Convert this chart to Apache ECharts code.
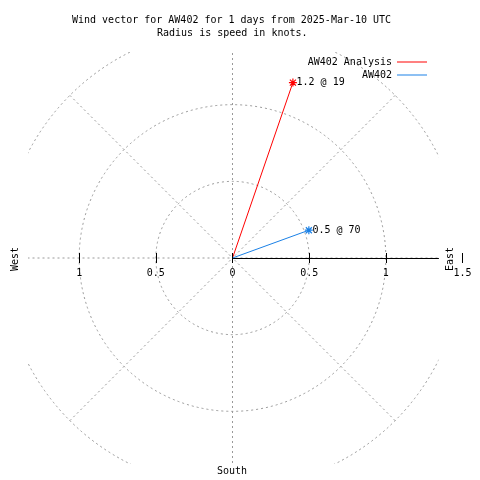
<!DOCTYPE html>
<html>
<head>
<meta charset="utf-8">
<script src="https://cdn.jsdelivr.net/npm/echarts@6/dist/echarts.min.js"></script>
<style>html,body{margin:0;padding:0;background:#fff}#c{width:480px;height:480px}</style>
</head>
<body>
<div id="c"></div>
<script>
// ---- data ----
const seriesNames = ['AW402 Analysis', 'AW402'];
const speeds = [1.21, 0.53];       // knots (radius)
const directions = [19, 70];        // degrees, clockwise from north
const seriesColors = ['#ff0000', '#1a80e6'];
const tickValues = [-1, -0.5, 0, 0.5, 1, 1.5];
const titleLine1 = 'Wind vector for AW402 for 1 days from 2025-Mar-10 UTC';
const titleLine2 = 'Radius is speed in knots.';
const compass = { west: 'West', east: 'East', south: 'South' };

// ---- layout ----
const FONT = 'DejaVu Sans Mono';
const CX = 232.5, CY = 258, R = 230, RMAX = 1.5;
const BOX = { l: 28, r: 438.5, t: 52, b: 464 };
const upperGrid = { left: CX - R, top: CY - R, width: 2 * R, height: R, outerBoundsMode: 'none', containLabel: false };
const gridLine = { color: '#999999', width: 1, type: [2, 3] };
const asterisk = 'path://M-4 0L4 0M0 -4L0 4M-3 -3L3 3M-3 3L3 -3';

const chart = echarts.init(document.getElementById('c'), null, { renderer: 'canvas' });

const series = seriesNames.map((name, i) => ({
  name: name,
  type: 'line',
  coordinateSystem: 'polar',
  polarIndex: 0,
  color: seriesColors[i],
  lineStyle: { color: seriesColors[i], width: 1 },
  itemStyle: { color: seriesColors[i], borderColor: seriesColors[i], borderWidth: 1.2 },
  symbol: asterisk,
  symbolSize: 8,
  animation: false,
  z: 3,
  data: [
    { value: [0, directions[i]], symbol: 'none', label: { show: false } },
    { value: [speeds[i], directions[i]] }
  ],
  label: {
    show: true,
    position: 'right',
    distance: -1,
    color: '#000',
    fontFamily: FONT,
    fontSize: 10,
    formatter: p => p.value[0].toFixed(1) + ' @ ' + p.value[1]
  }
}));

const textStyle = { fontFamily: FONT, fontSize: 10, color: '#000', fontWeight: 'normal' };

const option = {
  backgroundColor: '#fff',
  animation: false,
  title: [
    { text: titleLine1, left: 72, top: 15, padding: 0, textStyle: textStyle },
    { text: titleLine2, left: 157, top: 28, padding: 0, textStyle: textStyle }
  ],
  legend: [
    { data: [seriesNames[0]], right: 53, top: 57, padding: 0, align: 'right', icon: 'rect',
      itemWidth: 30, itemHeight: 1, itemStyle: { borderWidth: 0 }, textStyle: textStyle, selectedMode: false },
    { data: [seriesNames[1]], right: 53, top: 70, padding: 0, align: 'right', icon: 'rect',
      itemWidth: 30, itemHeight: 1, itemStyle: { borderWidth: 0 }, textStyle: textStyle, selectedMode: false }
  ],
  polar: { center: [CX, CY], radius: R },
  angleAxis: {
    type: 'value', min: 0, max: 360, interval: 45, startAngle: 90, clockwise: true,
    axisLine: { show: false }, axisTick: { show: false }, axisLabel: { show: false },
    splitLine: { show: true, lineStyle: gridLine }
  },
  radiusAxis: {
    type: 'value', min: 0, max: RMAX, interval: 0.5,
    axisLine: { show: false }, axisTick: { show: false }, axisLabel: { show: false },
    splitLine: { show: true, lineStyle: gridLine }
  },
  grid: [
    Object.assign({}, upperGrid),
    Object.assign({}, upperGrid),
    Object.assign({}, upperGrid, { left: CX, width: BOX.r - CX })
  ],
  xAxis: [
    { gridIndex: 0, type: 'value', min: -RMAX, max: RMAX, z: 5, position: 'bottom',
      axisLine: { show: false, onZero: false },
      splitLine: { show: false },
      axisTick: { show: true, length: 5, customValues: tickValues, lineStyle: { color: '#000' } },
      axisLabel: { show: true, customValues: tickValues, margin: 10, fontFamily: FONT, fontSize: 10, color: '#000',
        formatter: v => String(Math.abs(v)) } },
    { gridIndex: 1, type: 'value', min: -RMAX, max: RMAX, z: 5, position: 'bottom',
      axisLine: { show: false, onZero: false },
      splitLine: { show: false },
      axisTick: { show: true, inside: true, length: 5, customValues: tickValues, lineStyle: { color: '#000' } },
      axisLabel: { show: false } },
    { gridIndex: 2, type: 'value', min: 0, max: (BOX.r - CX) / (R / RMAX), z: 3, position: 'bottom',
      axisLine: { show: true, onZero: false, lineStyle: { color: '#000', width: 1 } },
      splitLine: { show: false }, axisTick: { show: false }, axisLabel: { show: false } }
  ],
  yAxis: [
    { gridIndex: 0, type: 'value', min: 0, max: RMAX, show: false },
    { gridIndex: 1, type: 'value', min: 0, max: RMAX, show: false },
    { gridIndex: 2, type: 'value', min: 0, max: RMAX, show: false }
  ],
  graphic: [
    { type: 'rect', z: 1, silent: true, shape: { x: 0, y: 0, width: 480, height: BOX.t }, style: { fill: '#fff' } },
    { type: 'rect', z: 1, silent: true, shape: { x: 0, y: BOX.b, width: 480, height: 480 - BOX.b }, style: { fill: '#fff' } },
    { type: 'rect', z: 1, silent: true, shape: { x: 0, y: 0, width: BOX.l, height: 480 }, style: { fill: '#fff' } },
    { type: 'rect', z: 1, silent: true, shape: { x: BOX.r, y: 0, width: 480 - BOX.r, height: 480 }, style: { fill: '#fff' } },
    { type: 'text', z: 6, x: 15, y: 259, rotation: Math.PI / 2,
      style: { text: compass.west, font: '10px ' + FONT, fill: '#000', align: 'center', verticalAlign: 'middle' } },
    { type: 'text', z: 6, x: 450, y: 259, rotation: Math.PI / 2,
      style: { text: compass.east, font: '10px ' + FONT, fill: '#000', align: 'center', verticalAlign: 'middle' } },
    { type: 'text', z: 6, x: 232, y: 471,
      style: { text: compass.south, font: '10px ' + FONT, fill: '#000', align: 'center', verticalAlign: 'middle' } }
  ],
  series: series
};

chart.setOption(option);
</script>
</body>
</html>
